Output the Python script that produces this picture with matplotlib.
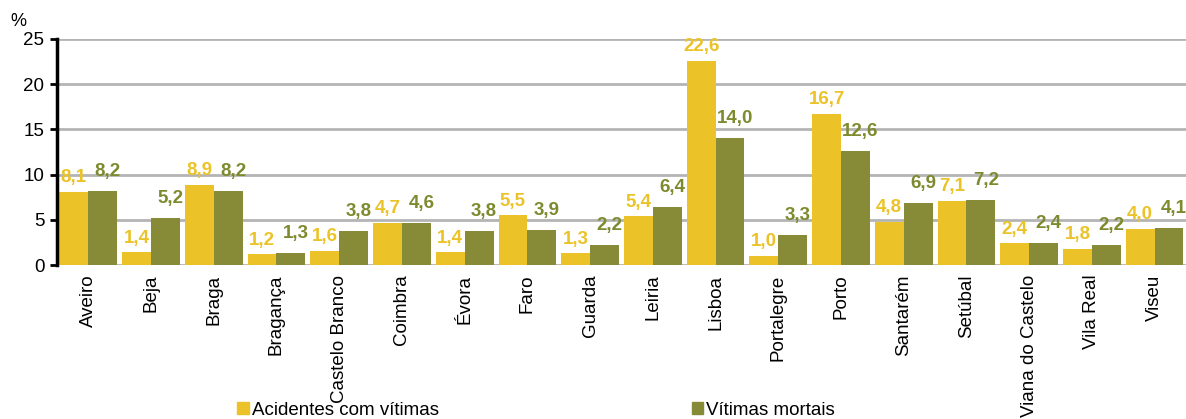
import numpy as np
import matplotlib.pyplot as plt
from matplotlib.patches import Patch

plt.rcParams['font.family'] = ['Liberation Sans', 'DejaVu Sans']

distritos = ["Aveiro", "Beja", "Braga", "Bragança", "Castelo Branco", "Coimbra",
             "Évora", "Faro", "Guarda", "Leiria", "Lisboa", "Portalegre", "Porto",
             "Santarém", "Setúbal", "Viana do Castelo", "Vila Real", "Viseu"]
acidentes = [8.1, 1.4, 8.9, 1.2, 1.6, 4.7, 1.4, 5.5, 1.3, 5.4, 22.6, 1.0, 16.7,
             4.8, 7.1, 2.4, 1.8, 4.0]
mortais = [8.2, 5.2, 8.2, 1.3, 3.8, 4.6, 3.8, 3.9, 2.2, 6.4, 14.0, 3.3, 12.6,
           6.9, 7.2, 2.4, 2.2, 4.1]

amarelo = "#ebc328"
verde = "#878b37"
verde_txt = "#7e8a2e"

fig = plt.figure(figsize=(11.86, 4.19), dpi=100)
ax = fig.add_axes([0.048, 0.3675, 0.952, 0.5395])

x = np.arange(len(distritos))
w = 0.46
b1 = ax.bar(x - w / 2, acidentes, w, color=amarelo, zorder=3)
b2 = ax.bar(x + w / 2, mortais, w, color=verde, zorder=3)

fmt = lambda v: f"{v:.1f}".replace(".", ",")
for rect, v in zip(b1, acidentes):
    ax.annotate(fmt(v), (rect.get_x() + rect.get_width() / 2, v),
                xytext=(0, 4), textcoords="offset points", ha="center", va="bottom",
                color=amarelo, fontsize=13.5, fontweight="bold", zorder=4)
for rect, v in zip(b2, mortais):
    ax.annotate(fmt(v), (rect.get_x() + rect.get_width() / 2 + 0.08, v),
                xytext=(0, 8), textcoords="offset points", ha="center", va="bottom",
                color=verde_txt, fontsize=13.5, fontweight="bold", zorder=4)

ax.set_xlim(-0.5, len(distritos) - 0.5)
ax.set_ylim(0, 25)
ax.set_yticks([0, 5, 10, 15, 20, 25])
ax.set_xticks(x)
ax.set_xticklabels(distritos, rotation=90, fontsize=13.5, va="top")
ax.tick_params(axis="x", length=0, pad=7)
ax.tick_params(axis="y", labelsize=13.5, length=5, width=2, direction="out", pad=4)
ax.yaxis.grid(True, color="#b4b4b4", linewidth=2, zorder=0)
for s in ["top", "right", "bottom"]:
    ax.spines[s].set_visible(False)
ax.spines["left"].set_linewidth(2.5)
ax.spines["left"].set_zorder(5)

fig.text(0.009, 0.938, "%", fontsize=13)

handles = [Patch(color=amarelo, label="Acidentes com vítimas"),
           Patch(color=verde, label="Vítimas mortais")]
fig.legend(handles=handles, loc="lower left", bbox_to_anchor=(0.186, -0.04), ncol=2,
           frameon=False, fontsize=13.5, handlelength=0.6, handleheight=0.6,
           handletextpad=0.15, columnspacing=13.5)

fig.savefig("out.png", dpi=100)
